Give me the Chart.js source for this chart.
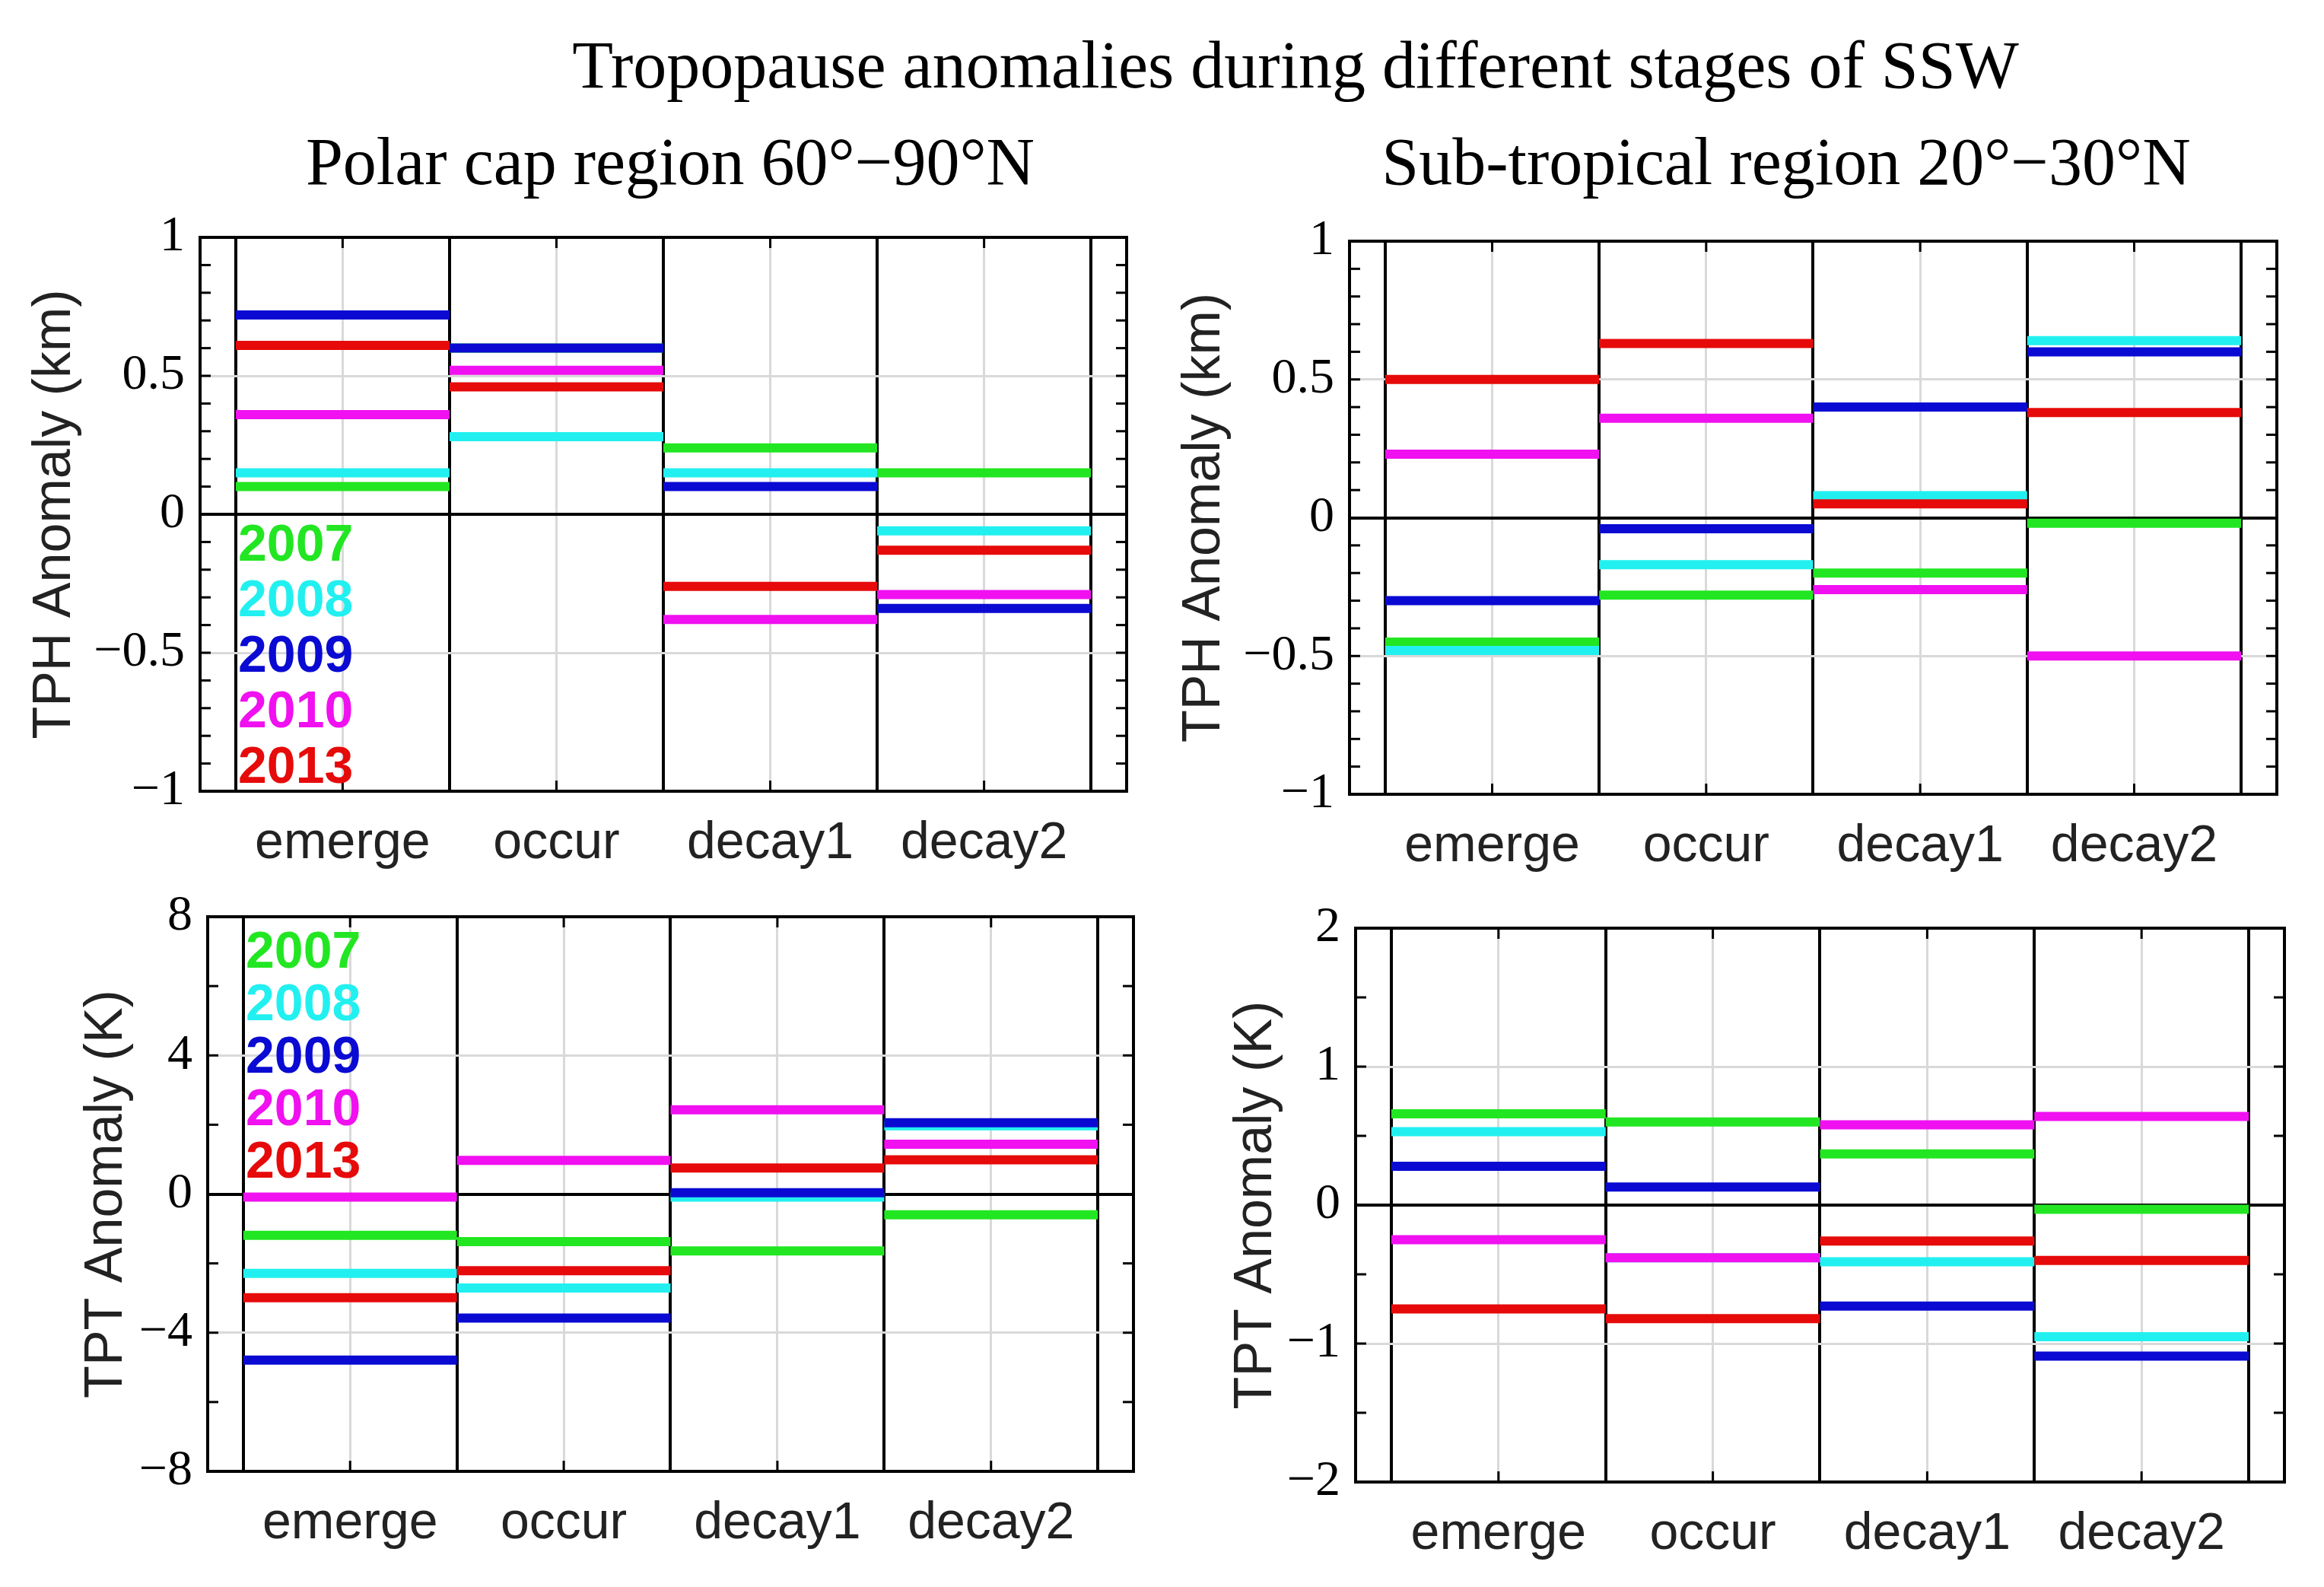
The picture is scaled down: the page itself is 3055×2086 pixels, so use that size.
<!DOCTYPE html>
<html>
<head>
<meta charset="utf-8">
<script src="https://cdn.jsdelivr.net/npm/chart.js@4.4.0/dist/chart.umd.min.js"></script>
<style>
    body { margin: 0; background: #fff; width: 3055px; height: 2086px; position: relative; overflow: hidden; }
    .txt { position: absolute; font-family: 'Liberation Serif', 'Times New Roman', serif; color: #000;
           white-space: nowrap; line-height: 1; transform: translateX(-50%); }
    canvas { position: absolute; }
</style>
</head>
<body>
<div class="txt" style="left:1703px; top:42px; font-size:88px;">Tropopause anomalies during different stages of SSW</div>
<div class="txt" style="left:881px; top:169px; font-size:88px;">Polar cap region 60°−90°N</div>
<div class="txt" style="left:2348px; top:169px; font-size:88px;">Sub-tropical region 20°−30°N</div>
<canvas id="tphPolar"></canvas>
<canvas id="tphSub"></canvas>
<canvas id="tptPolar"></canvas>
<canvas id="tptSub"></canvas>

<script>
// Categories and series
const stages = ['emerge', 'occur', 'decay1', 'decay2'];
const years = ['2007', '2008', '2009', '2010', '2013'];
const yearColors = ['#22e622', '#22f0f0', '#0a0ad2', '#f010f0', '#e60a0a'];

// TPH anomaly, polar cap 60-90N (km)
const tphPolar2007 = [0.10, 0.60, 0.24, 0.15];
const tphPolar2008 = [0.15, 0.28, 0.15, -0.06];
const tphPolar2009 = [0.72, 0.60, 0.10, -0.34];
const tphPolar2010 = [0.36, 0.52, -0.38, -0.29];
const tphPolar2013 = [0.61, 0.46, -0.26, -0.13];

// TPH anomaly, sub-tropics 20-30N (km)
const tphSub2007 = [-0.45, -0.28, -0.20, -0.02];
const tphSub2008 = [-0.48, -0.17, 0.08, 0.64];
const tphSub2009 = [-0.30, -0.04, 0.40, 0.60];
const tphSub2010 = [0.23, 0.36, -0.26, -0.50];
const tphSub2013 = [0.50, 0.63, 0.05, 0.38];

// TPT anomaly, polar cap (K)
const tptPolar2007 = [-1.19, -1.37, -1.64, -0.60];
const tptPolar2008 = [-2.29, -2.71, -0.09, 1.97];
const tptPolar2009 = [-4.79, -3.58, 0.04, 2.06];
const tptPolar2010 = [-0.09, 0.97, 2.43, 1.44];
const tptPolar2013 = [-2.99, -2.21, 0.75, 0.99];

// TPT anomaly, sub-tropics (K)
const tptSub2007 = [0.66, 0.60, 0.37, -0.03];
const tptSub2008 = [0.53, -0.38, -0.41, -0.95];
const tptSub2009 = [0.28, 0.13, -0.73, -1.09];
const tptSub2010 = [-0.25, -0.38, 0.58, 0.64];
const tptSub2013 = [-0.75, -0.82, -0.26, -0.40];

// Tick labels
const tphTicks = [-1, -0.5, 0, 0.5, 1];
const tptPolarTicks = [-8, -4, 0, 4, 8];
const tptSubTicks = [-2, -1, 0, 1, 2];

const GRID_GREY = '#d9d9d9';

// one horizontal bar per stage, broken between stages
function stageSegments(vals) {
    const pts = [];
    vals.forEach((v, i) => {
        pts.push({ x: i + 0.5, y: v }, { x: i + 1.5, y: v }, { x: i + 1.5, y: null });
    });
    return pts;
}

function isMultiple(v, step) {
    return Math.abs(v / step - Math.round(v / step)) < 1e-6;
}

// box, inward tick marks and the coloured year list
const framePlugin = {
    id: 'frame',
    afterDraw(chart, args, opts) {
        const { ctx, chartArea: a, scales: { x, y } } = chart;
        const line = (x1, y1, x2, y2) => { ctx.beginPath(); ctx.moveTo(x1, y1); ctx.lineTo(x2, y2); ctx.stroke(); };
        ctx.save();
        ctx.strokeStyle = '#000';
        ctx.lineWidth = 3;
        const lo = y.min, hi = y.max;
        for (let v = lo + opts.minor; v < hi - 1e-9; v += opts.minor) {
            const py = y.getPixelForValue(v);
            line(a.left, py, a.left + 14, py);
            line(a.right - 14, py, a.right, py);
        }
        x.ticks.forEach(t => {
            if (!Number.isInteger(t.value)) return;
            const px = x.getPixelForValue(t.value);
            line(px, a.top, px, a.top + 14);
            line(px, a.bottom - 14, px, a.bottom);
        });
        ctx.lineWidth = 4;
        ctx.strokeRect(a.left, a.top, a.right - a.left, a.bottom - a.top);

        if (opts.legend) {
            ctx.font = 'bold 68px "Liberation Sans", Arial, sans-serif';
            ctx.textBaseline = 'middle';
            ctx.textAlign = 'left';
            chart.data.datasets.forEach((ds, i) => {
                ctx.fillStyle = ds.borderColor;
                ctx.fillText(ds.label, a.left + opts.legend.dx, a.top + opts.legend.y0 + i * opts.legend.dy);
            });
        }
        ctx.restore();
    }
};

function makePanel(id, box, series, yTicks, minor, yTitle, titlePad, legend) {
    const canvas = document.getElementById(id);
    canvas.width = box.w;
    canvas.height = box.h;
    canvas.style.left = box.left + 'px';
    canvas.style.top = box.top + 'px';

    const major = yTicks[1] - yTicks[0];
    const yMin = yTicks[0], yMax = yTicks[yTicks.length - 1];

    new Chart(canvas, {
        type: 'line',
        data: {
            datasets: series.map((vals, i) => ({
                label: years[i],
                data: stageSegments(vals),
                borderColor: yearColors[i],
                borderWidth: 12,
                borderCapStyle: 'butt',
                pointRadius: 0,
                spanGaps: false,
                order: series.length - i
            }))
        },
        options: {
            responsive: false,
            devicePixelRatio: 1,
            animation: false,
            events: [],
            layout: { padding: { left: 0, top: box.padTop, right: box.padRight, bottom: 0 } },
            plugins: {
                legend: { display: false },
                tooltip: { enabled: false },
                frame: { minor: minor, legend: legend }
            },
            scales: {
                x: {
                    type: 'linear',
                    min: 0.5 - 1 / 6,
                    max: stages.length + 0.5 + 1 / 6,
                    afterBuildTicks: scale => {
                        const t = [];
                        for (let i = 0; i <= stages.length * 2; i++) t.push({ value: 0.5 + i * 0.5 });
                        scale.ticks = t;
                    },
                    afterFit: scale => { scale.height = box.xH; },
                    border: { display: false },
                    grid: {
                        drawTicks: false,
                        color: c => Number.isInteger(c.tick.value) ? GRID_GREY : '#000',
                        lineWidth: c => Number.isInteger(c.tick.value) ? 3 : 4
                    },
                    ticks: {
                        autoSkip: false,
                        maxRotation: 0,
                        padding: 28,
                        color: '#222',
                        font: { family: '"Liberation Sans", Arial, sans-serif', size: 68 },
                        callback: v => Number.isInteger(v) ? stages[v - 1] : ''
                    }
                },
                y: {
                    min: yMin,
                    max: yMax,
                    afterBuildTicks: scale => { scale.ticks = yTicks.map(v => ({ value: v })); },
                    afterFit: scale => { scale.width = box.yW; },
                    border: { display: false },
                    grid: {
                        drawTicks: false,
                        color: c => {
                            const v = c.tick.value;
                            if (Math.abs(v) < 1e-9) return '#000';
                            if (v === yMin || v === yMax) return 'rgba(0,0,0,0)';
                            return GRID_GREY;
                        },
                        lineWidth: c => Math.abs(c.tick.value) < 1e-9 ? 4 : 3
                    },
                    ticks: {
                        autoSkip: false,
                        padding: 20,
                        color: '#000',
                        font: { family: '"Liberation Serif", "Times New Roman", serif', size: 66 },
                        callback: v => isMultiple(v, major) ? String(v).replace('-', '\u2212') : ''
                    },
                    title: {
                        display: true,
                        text: yTitle,
                        color: '#222',
                        padding: { top: titlePad, bottom: 0 },
                        font: { family: '"Liberation Sans", Arial, sans-serif', size: 70 }
                    }
                }
            }
        },
        plugins: [framePlugin]
    });
}

makePanel('tphPolar',
    { left: 0, top: 250, w: 1530, h: 930, yW: 263, padTop: 62, padRight: 49, xH: 140 },
    [tphPolar2007, tphPolar2008, tphPolar2009, tphPolar2010, tphPolar2013],
    tphTicks, 0.1, 'TPH Anomaly (km)', 31, { dx: 50, y0: 406, dy: 73 });

makePanel('tphSub',
    { left: 1530, top: 250, w: 1525, h: 930, yW: 244, padTop: 67, padRight: 62, xH: 136 },
    [tphSub2007, tphSub2008, tphSub2009, tphSub2010, tphSub2013],
    tphTicks, 0.1, 'TPH Anomaly (km)', 12, null);

makePanel('tptPolar',
    { left: 0, top: 1130, w: 1530, h: 956, yW: 273, padTop: 75, padRight: 40, xH: 152 },
    [tptPolar2007, tptPolar2008, tptPolar2009, tptPolar2010, tptPolar2013],
    tptPolarTicks, 2, 'TPT Anomaly (K)', 99, { dx: 50, y0: 48, dy: 69 });

makePanel('tptSub',
    { left: 1530, top: 1130, w: 1525, h: 956, yW: 252, padTop: 90, padRight: 52, xH: 138 },
    [tptSub2007, tptSub2008, tptSub2009, tptSub2010, tptSub2013],
    tptSubTicks, 0.5, 'TPT Anomaly (K)', 80, null);
</script>
</body>
</html>
